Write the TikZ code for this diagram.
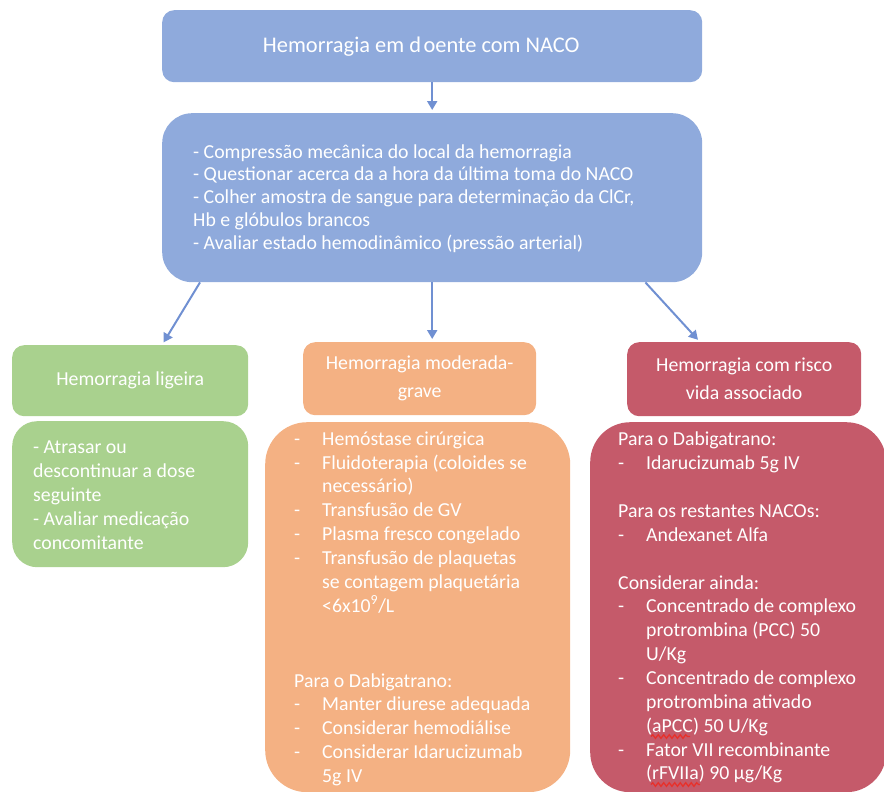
\documentclass[tikz,border=0pt]{standalone}
\usepackage{fontspec}
\setmainfont{Carlito}
\usetikzlibrary{arrows.meta,decorations.pathmorphing}

\definecolor{boxblue}{HTML}{8FAADC}
\definecolor{arrowblue}{HTML}{7090D2}
\definecolor{boxgreen}{HTML}{A9D18E}
\definecolor{boxorange}{HTML}{F4B183}
\definecolor{boxred}{HTML}{C55A6A}
\definecolor{spellred}{HTML}{E8302A}

% dash bullet with hanging indent
\newcommand\dashitem{\makebox[28pt][l]{-}}
\newcommand\contind{\hspace*{28pt}}

\tikzset{
  panel/.style={draw=none, rounded corners=#1, inner sep=0pt, anchor=north west,
    text=white, align=center},
  headtext/.style={font=\fontsize{19.8}{28}\selectfont},
  bodytext/.style={anchor=north west, inner sep=0pt, align=left, text=white,
    font=\fontsize{19.8}{23.85}\selectfont},
  conn/.style={draw=arrowblue, line width=2pt,
    -{Triangle[length=9pt,width=10pt]}, shorten >=3pt},
  spellwave/.style={draw=spellred, line width=1.3pt, decorate,
    decoration={snake, amplitude=1.8pt, segment length=5.5pt}}
}

\begin{document}
\begin{tikzpicture}[x=1pt, y=-1pt]
\useasboundingbox (0,0) rectangle (884,792);

% top level
\node[panel=12pt, fill=boxblue, minimum width=540pt, minimum height=72pt,
  font=\fontsize{22.4}{27}\selectfont] (title) at (162,10)
  {Hemorragia em d\kern2.5pt oente com NACO\hspace*{22pt}};

\node[panel=30pt, fill=boxblue, minimum width=540pt, minimum height=169pt] (steps) at (162,113) {};
\node[bodytext, font=\fontsize{19.8}{22.8}\selectfont] (stepstext) at (193,142)
  {\strut- Compressão mecânica do local da hemorragia\\
   - Questionar acerca da a hora da última toma do NACO\\
   - Colher amostra de sangue para determinação da ClCr,\\
   Hb e glóbulos brancos\\
   - Avaliar estado hemodinâmico (pressão arterial)};

% mild bleeding
\node[panel=12pt, fill=boxgreen, minimum width=236pt, minimum height=71pt, headtext] (mild) at (12,345)
  {Hemorragia ligeira};
\node[panel=25pt, fill=boxgreen, minimum width=236pt, minimum height=146pt] (mildbody) at (12,421) {};
\node[bodytext, font=\fontsize{19.8}{24}\selectfont] (mildtext) at (33,436)
  {\strut- Atrasar ou\\
   descontinuar a dose\\
   seguinte\\
   - Avaliar medicação\\
   concomitante};

% moderate / severe bleeding
\node[panel=12pt, fill=boxorange, minimum width=233pt, minimum height=73pt, headtext] (moderate) at (303,342)
  {Hemorragia moderada-\\grave};
\node[panel=42pt, fill=boxorange, minimum width=305pt, minimum height=370pt] (modbody) at (265,422) {};
\node[bodytext] (modtext) at (294,428.3)
  {\strut\dashitem Hemóstase cirúrgica\\
   \dashitem Fluidoterapia (coloides se\\
   \contind necessário)\\
   \dashitem Transfusão de GV\\
   \dashitem Plasma fresco congelado\\
   \dashitem Transfusão de plaquetas\\
   \contind se contagem plaquetária\\
   \contind <6x10\textsuperscript{9}/L\\[51pt]
   Para o Dabigatrano:\\
   \dashitem Manter diurese adequada\\
   \dashitem Considerar hemodiálise\\
   \dashitem Considerar Idarucizumab\\
   \contind 5g IV};

% life-threatening bleeding
\node[panel=12pt, fill=boxred, minimum width=234pt, minimum height=74pt, headtext] (severe) at (627,342)
  {Hemorragia com risco\\vida associado};
\node[panel=40pt, fill=boxred, minimum width=296pt, minimum height=370pt] (sevbody) at (590,422) {};
\node[bodytext] (sevtext) at (618,428.8)
  {\strut Para o Dabigatrano:\\
   \dashitem Idarucizumab 5g IV\\[24pt]
   Para os restantes NACOs:\\
   \dashitem Andexanet Alfa\\[24pt]
   Considerar ainda:\\
   \dashitem Concentrado de complexo\\
   \contind protrombina (PCC) 50\\
   \contind U/Kg\\
   \dashitem Concentrado de complexo\\
   \contind protrombina ativado\\
   \contind (aPCC) 50 U/Kg\\
   \dashitem Fator VII recombinante\\
   \contind (rFVIIa) 90 µg/Kg};

% spell-check marks under the abbreviations
\draw[spellwave] (651,736.5) -- (690,736.5);
\draw[spellwave] (651,784.5) -- (700,784.5);

% connectors
\draw[conn] (title.south) -- (steps.north);
\draw[conn] ([xshift=38pt]steps.south west) -- ([xshift=150pt]mild.north west);
\draw[conn] (steps.south) -- (steps.south |- moderate.north);
\draw[conn] ([xshift=-57pt]steps.south east) -- ([xshift=73pt]severe.north west);
\end{tikzpicture}
\end{document}
